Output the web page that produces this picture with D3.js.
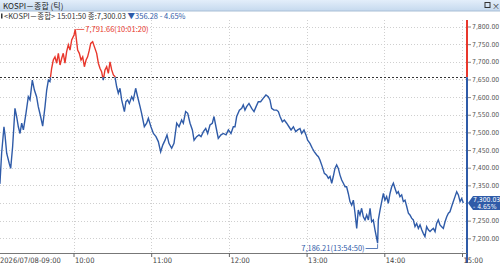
<!DOCTYPE html>
<html>
<head>
<meta charset="utf-8">
<script src="https://cdn.jsdelivr.net/npm/d3@7"></script>
<style>
  body { margin: 0; background: #fff; }
  svg { display: block; font-family: "Noto Sans CJK KR", "DejaVu Sans", sans-serif; }
</style>
</head>
<body>
<svg id="chart" width="500" height="263"></svg>
<script>
//tick data: minutes after 09:00 and index level
var tickMinutes = [0, 1.5, 3.2, 4.5, 6.3, 7.1, 8.4, 10.4, 11.5, 13.0, 14.8, 16.1, 17.4, 18.7, 20.0, 21.3, 23.3, 25.1, 26.4, 28.2,
    29.8, 31.5, 32.8, 34.6, 36.2, 38.0, 39.3, 40.6, 41.8, 43.1, 44.4, 45.7, 47.0, 48.3, 49.6, 50.9, 52.1, 53.4, 54.7, 56.0,
    57.3, 58.6, 60.4, 61.33, 63.2, 64.5, 65.8, 67.1, 68.4, 69.7, 70.9, 72.2, 73.3, 74.8, 76.1, 77.9, 79.2, 80.5, 81.7, 83.0,
    84.3, 85.6, 86.9, 88.2, 89.5, 90.8, 92.0, 93.3, 94.6, 95.9, 97.2, 99.3, 100.5, 101.8, 103.1, 104.9, 106.2, 108.0, 109.5, 111.4,
    112.6, 114.7, 116.5, 117.8, 119.8, 121.7, 123.7, 125.5, 127.3, 128.9, 130.7, 132.2, 133.7, 135.8, 137.6, 139.7, 141.5, 143.5, 144.8, 146.6,
    148.2, 150.0, 151.8, 153.1, 155.1, 156.9, 158.5, 160.3, 162.1, 163.6, 165.4, 167.2, 168.5, 170.0, 171.8, 173.9, 175.7, 177.8, 179.6, 181.6,
    183.4, 184.7, 186.0, 188.1, 189.9, 191.1, 192.4, 193.7, 195.5, 197.6, 199.4, 201.0, 202.7, 204.5, 206.6, 208.6, 210.4, 211.7, 213.0, 214.8,
    216.9, 218.2, 219.5, 221.3, 222.8, 224.6, 226.4, 228.0, 229.8, 231.6, 233.1, 234.9, 236.2, 238.0, 239.5, 240.8, 242.6, 244.4, 246.0, 247.8,
    249.1, 250.3, 252.1, 253.7, 255.5, 256.8, 258.1, 259.4, 260.6, 261.9, 263.2, 264.5, 265.8, 267.1, 268.4, 269.7, 270.9, 272.2, 273.5, 274.8,
    276.1, 277.4, 278.7, 279.9, 281.2, 282.5, 283.8, 285.1, 286.4, 287.7, 289.0, 290.2, 291.5, 292.8, 294.83, 295.4, 296.7, 298.0, 299.3, 300.5,
    301.8, 303.1, 304.4, 305.7, 307.0, 308.3, 309.6, 310.8, 312.1, 313.4, 314.7, 316.0, 317.3, 318.6, 319.8, 321.1, 322.4, 323.7, 325.0, 326.3,
    327.6, 328.9, 330.1, 331.4, 332.7, 334.0, 335.3, 336.6, 337.9, 339.2, 340.4, 341.7, 343.0, 344.3, 345.6, 346.9, 348.2, 349.5, 350.7, 352.0,
    353.3, 354.6, 355.9, 357.2, 358.5, 359.8, 361.0];
var tickValues = [7348, 7352, 7356, 7441, 7516, 7493, 7441, 7412, 7398, 7460, 7568, 7545, 7516, 7497, 7526, 7507, 7554, 7601, 7592, 7648,
    7620, 7601, 7573, 7545, 7518, 7573, 7620, 7648, 7644, 7681, 7705, 7714, 7696, 7724, 7691, 7710, 7724, 7696, 7729, 7748,
    7733, 7762, 7776, 7791.66, 7733, 7724, 7705, 7714, 7686, 7705, 7714, 7733, 7752, 7757, 7743, 7724, 7696, 7681, 7672, 7648,
    7677, 7686, 7667, 7700, 7677, 7663, 7658, 7630, 7611, 7625, 7592, 7559, 7587, 7592, 7582, 7601, 7592, 7625, 7601, 7573,
    7554, 7516, 7526, 7540, 7516, 7497, 7488, 7474, 7445, 7464, 7478, 7493, 7469, 7455, 7469, 7526, 7516, 7535, 7526, 7559,
    7554, 7526, 7507, 7478, 7488, 7493, 7488, 7502, 7511, 7497, 7521, 7526, 7545, 7516, 7483, 7493, 7497, 7493, 7507, 7497,
    7516, 7516, 7545, 7563, 7568, 7578, 7563, 7573, 7582, 7568, 7559, 7573, 7587, 7587, 7597, 7606, 7601, 7592, 7568, 7563,
    7563, 7559, 7545, 7530, 7535, 7526, 7516, 7507, 7516, 7502, 7507, 7511, 7497, 7507, 7493, 7478, 7469, 7455, 7445, 7436,
    7431, 7422, 7403, 7384, 7379, 7370, 7375, 7356, 7375, 7398, 7408, 7398, 7379, 7365, 7356, 7346, 7346, 7327, 7304, 7294,
    7308, 7271, 7228, 7280, 7266, 7285, 7261, 7252, 7266, 7252, 7285, 7247, 7252, 7224, 7186.21, 7252, 7280, 7304, 7327, 7308,
    7318, 7299, 7327, 7346, 7356, 7341, 7327, 7332, 7318, 7323, 7304, 7308, 7290, 7271, 7266, 7257, 7252, 7233, 7242, 7228,
    7238, 7224, 7214, 7205, 7233, 7224, 7219, 7224, 7228, 7219, 7242, 7252, 7238, 7233, 7228, 7247, 7261, 7271, 7275, 7290,
    7304, 7318, 7332, 7323, 7304, 7313, 7300.03];

var prevClose = 7656.31;
var yTicks = [7200, 7250, 7300, 7350, 7400, 7450, 7500, 7550, 7600, 7650, 7700, 7750, 7800];
var xTicks = [60, 120, 180, 240, 300, 360];
var xTickLabels = ['10:00', '11:00', '12:00', '13:00', '14:00', '15:00'];
var startLabel = '2026/07/08-09:00';
var titleText = 'KOSPI－종합 (틱)';
var infoText = '<KOSPI－종합> 15:01:50 종:7,300.03 ';
var changeText = '▼356.28  - 4.65%';
var highLabel = '7,791.66(10:01:20)';
var lowLabel = '7,186.21(13:54:50)';
var lastLabel = ['7,300.03', '- 4.65%'];

//colors
var red = '#e8372c', blue = '#2f5ba8', gridColor = '#cfcfcf', textColor = '#555';
var narrow = 'DejaVu Sans Condensed, DejaVu Sans, sans-serif';

var svg = d3.select('#chart');
var plot = { left: 0, right: 467, top: 20, bottom: 253 };

var x = d3.scaleLinear().domain([60, 360]).range([73.5, 462]);
var y = d3.scaleLinear().domain([7200, 7800]).range([238.3, 26.5]);

var data = tickMinutes.map(function (m, i) { return { m: m, v: tickValues[i] }; });
var last = data[data.length - 1];

//title bar
var defs = svg.append('defs');
var grad = defs.append('linearGradient').attr('id', 'tb').attr('x1', 0).attr('y1', 0).attr('x2', 0).attr('y2', 1);
grad.append('stop').attr('offset', 0).attr('stop-color', '#e3eefa');
grad.append('stop').attr('offset', 1).attr('stop-color', '#c5d9ee');
svg.append('rect').attr('x', 0).attr('y', 0).attr('width', 500).attr('height', 11).attr('fill', 'url(#tb)');
svg.append('line').attr('x1', 0).attr('x2', 500).attr('y1', 11).attr('y2', 11).attr('stroke', '#a9bfd6');
svg.append('text').attr('x', 3).attr('y', 8.5).attr('font-size', 8).attr('fill', '#222').text(titleText);
svg.append('rect').attr('x', 485).attr('y', 2.5).attr('width', 5).attr('height', 5).attr('fill', 'none').attr('stroke', '#333');
svg.append('text').attr('x', 492).attr('y', 8.5).attr('font-size', 8).attr('fill', '#333').text('×');

//info line
svg.append('rect').attr('x', 1).attr('y', 13.5).attr('width', 1.5).attr('height', 5).attr('fill', '#333');
var info = svg.append('text').attr('x', 4).attr('y', 18.5).attr('font-size', 7.5).attr('fill', '#333');
info.append('tspan').text(infoText);
info.append('tspan').attr('fill', blue).text(changeText);

//grid
var grid = svg.append('g');
yTicks.forEach(function (t) {
    grid.append('line').attr('x1', plot.left).attr('x2', plot.right)
        .attr('y1', Math.round(y(t)) + 0.5).attr('y2', Math.round(y(t)) + 0.5)
        .attr('stroke', gridColor).attr('stroke-dasharray', '1,2');
});
xTicks.forEach(function (t) {
    grid.append('line').attr('y1', plot.top).attr('y2', plot.bottom)
        .attr('x1', Math.round(x(t)) + 0.5).attr('x2', Math.round(x(t)) + 0.5)
        .attr('stroke', gridColor).attr('stroke-dasharray', '1,2');
});

//previous close line
svg.append('line').attr('x1', plot.left).attr('x2', plot.right)
    .attr('y1', Math.round(y(prevClose)) + 0.5).attr('y2', Math.round(y(prevClose)) + 0.5)
    .attr('stroke', '#333').attr('stroke-dasharray', '2,2');

//clip paths above and below previous close
defs.append('clipPath').attr('id', 'above').append('rect')
    .attr('x', plot.left).attr('y', plot.top).attr('width', plot.right - plot.left).attr('height', y(prevClose) - plot.top);
defs.append('clipPath').attr('id', 'below').append('rect')
    .attr('x', plot.left).attr('y', y(prevClose)).attr('width', plot.right - plot.left).attr('height', plot.bottom - y(prevClose));

var line = d3.line().x(function (d) { return x(d.m); }).y(function (d) { return y(d.v); });
svg.append('path').datum(data).attr('d', line).attr('fill', 'none')
    .attr('stroke', blue).attr('stroke-width', 1.4).attr('clip-path', 'url(#below)');
svg.append('path').datum(data).attr('d', line).attr('fill', 'none')
    .attr('stroke', red).attr('stroke-width', 1.4).attr('clip-path', 'url(#above)');

//high marker
var hi = data[d3.maxIndex(data, function (d) { return d.v; })];
svg.append('line').attr('x1', x(hi.m) + 1).attr('x2', x(hi.m) + 9).attr('y1', y(hi.v)).attr('y2', y(hi.v))
    .attr('stroke', red).attr('stroke-width', 0.8);
svg.append('text').attr('x', x(hi.m) + 10).attr('y', y(hi.v) + 2.5).attr('font-size', 7.5).attr('fill', red).text(highLabel);

//low marker
var lo = data[d3.minIndex(data, function (d) { return d.v; })];
svg.append('path').attr('d', 'M' + (x(lo.m) - 12) + ',' + 248.5 + 'H' + x(lo.m) + 'V' + (y(lo.v) + 1))
    .attr('fill', 'none').attr('stroke', blue).attr('stroke-width', 0.8);
svg.append('text').attr('x', x(lo.m) - 13).attr('y', 250.5).attr('text-anchor', 'end')
    .attr('font-size', 7.5).attr('fill', blue).text(lowLabel);

//y axis line colored by side of previous close
svg.append('line').attr('x1', plot.right).attr('x2', plot.right).attr('y1', plot.top).attr('y2', y(prevClose))
    .attr('stroke', red).attr('stroke-width', 2);
svg.append('line').attr('x1', plot.right).attr('x2', plot.right).attr('y1', y(prevClose)).attr('y2', plot.bottom + 10)
    .attr('stroke', blue).attr('stroke-width', 2);

//y axis labels, the one under the last price callout is hidden
var yAxis = d3.axisRight(y).tickValues(yTicks.filter(function (t) { return Math.abs(y(t) - y(last.v)) > 8; }))
    .tickSize(3).tickPadding(1)
    .tickFormat(function (d) { return d3.format(',.2f')(d); });
var yg = svg.append('g').attr('transform', 'translate(' + (plot.right + 1) + ',0)').call(yAxis);
yg.select('.domain').remove();
yg.selectAll('line').attr('stroke', '#888');
yg.selectAll('text').attr('font-size', 6.8).attr('fill', textColor).attr('font-family', narrow);

//last price callout
var ly = y(last.v);
svg.append('path')
    .attr('d', 'M468,' + ly + 'L473,' + (ly - 7) + 'H500V' + (ly + 7) + 'H473Z')
    .attr('fill', blue);
svg.append('text').attr('x', 473).attr('y', ly - 0.8).attr('font-size', 6.8).attr('font-family', narrow)
    .attr('fill', '#fff').text(lastLabel[0]);
svg.append('text').attr('x', 473).attr('y', ly + 5.8).attr('font-size', 6.8).attr('font-family', narrow)
    .attr('fill', '#fff').text(lastLabel[1]);

//x axis
svg.append('line').attr('x1', 0).attr('x2', plot.right).attr('y1', plot.bottom + 0.5).attr('y2', plot.bottom + 0.5)
    .attr('stroke', '#777');
var xAxis = d3.axisBottom(x).tickValues(xTicks).tickSize(4)
    .tickFormat(function (d, i) { return xTickLabels[i]; });
var xg = svg.append('g').attr('transform', 'translate(0,' + plot.bottom + ')').call(xAxis);
xg.select('.domain').remove();
xg.selectAll('line').attr('stroke', '#666');
xg.selectAll('text').attr('text-anchor', 'start').attr('x', 1).attr('dy', 0).attr('y', 9.5)
    .attr('font-size', 7.5).attr('fill', '#444').attr('font-family', narrow);
svg.append('text').attr('x', 0).attr('y', plot.bottom + 9.5).attr('font-size', 7.5).attr('fill', '#444')
    .attr('font-family', narrow).text(startLabel);
</script>
</body>
</html>
